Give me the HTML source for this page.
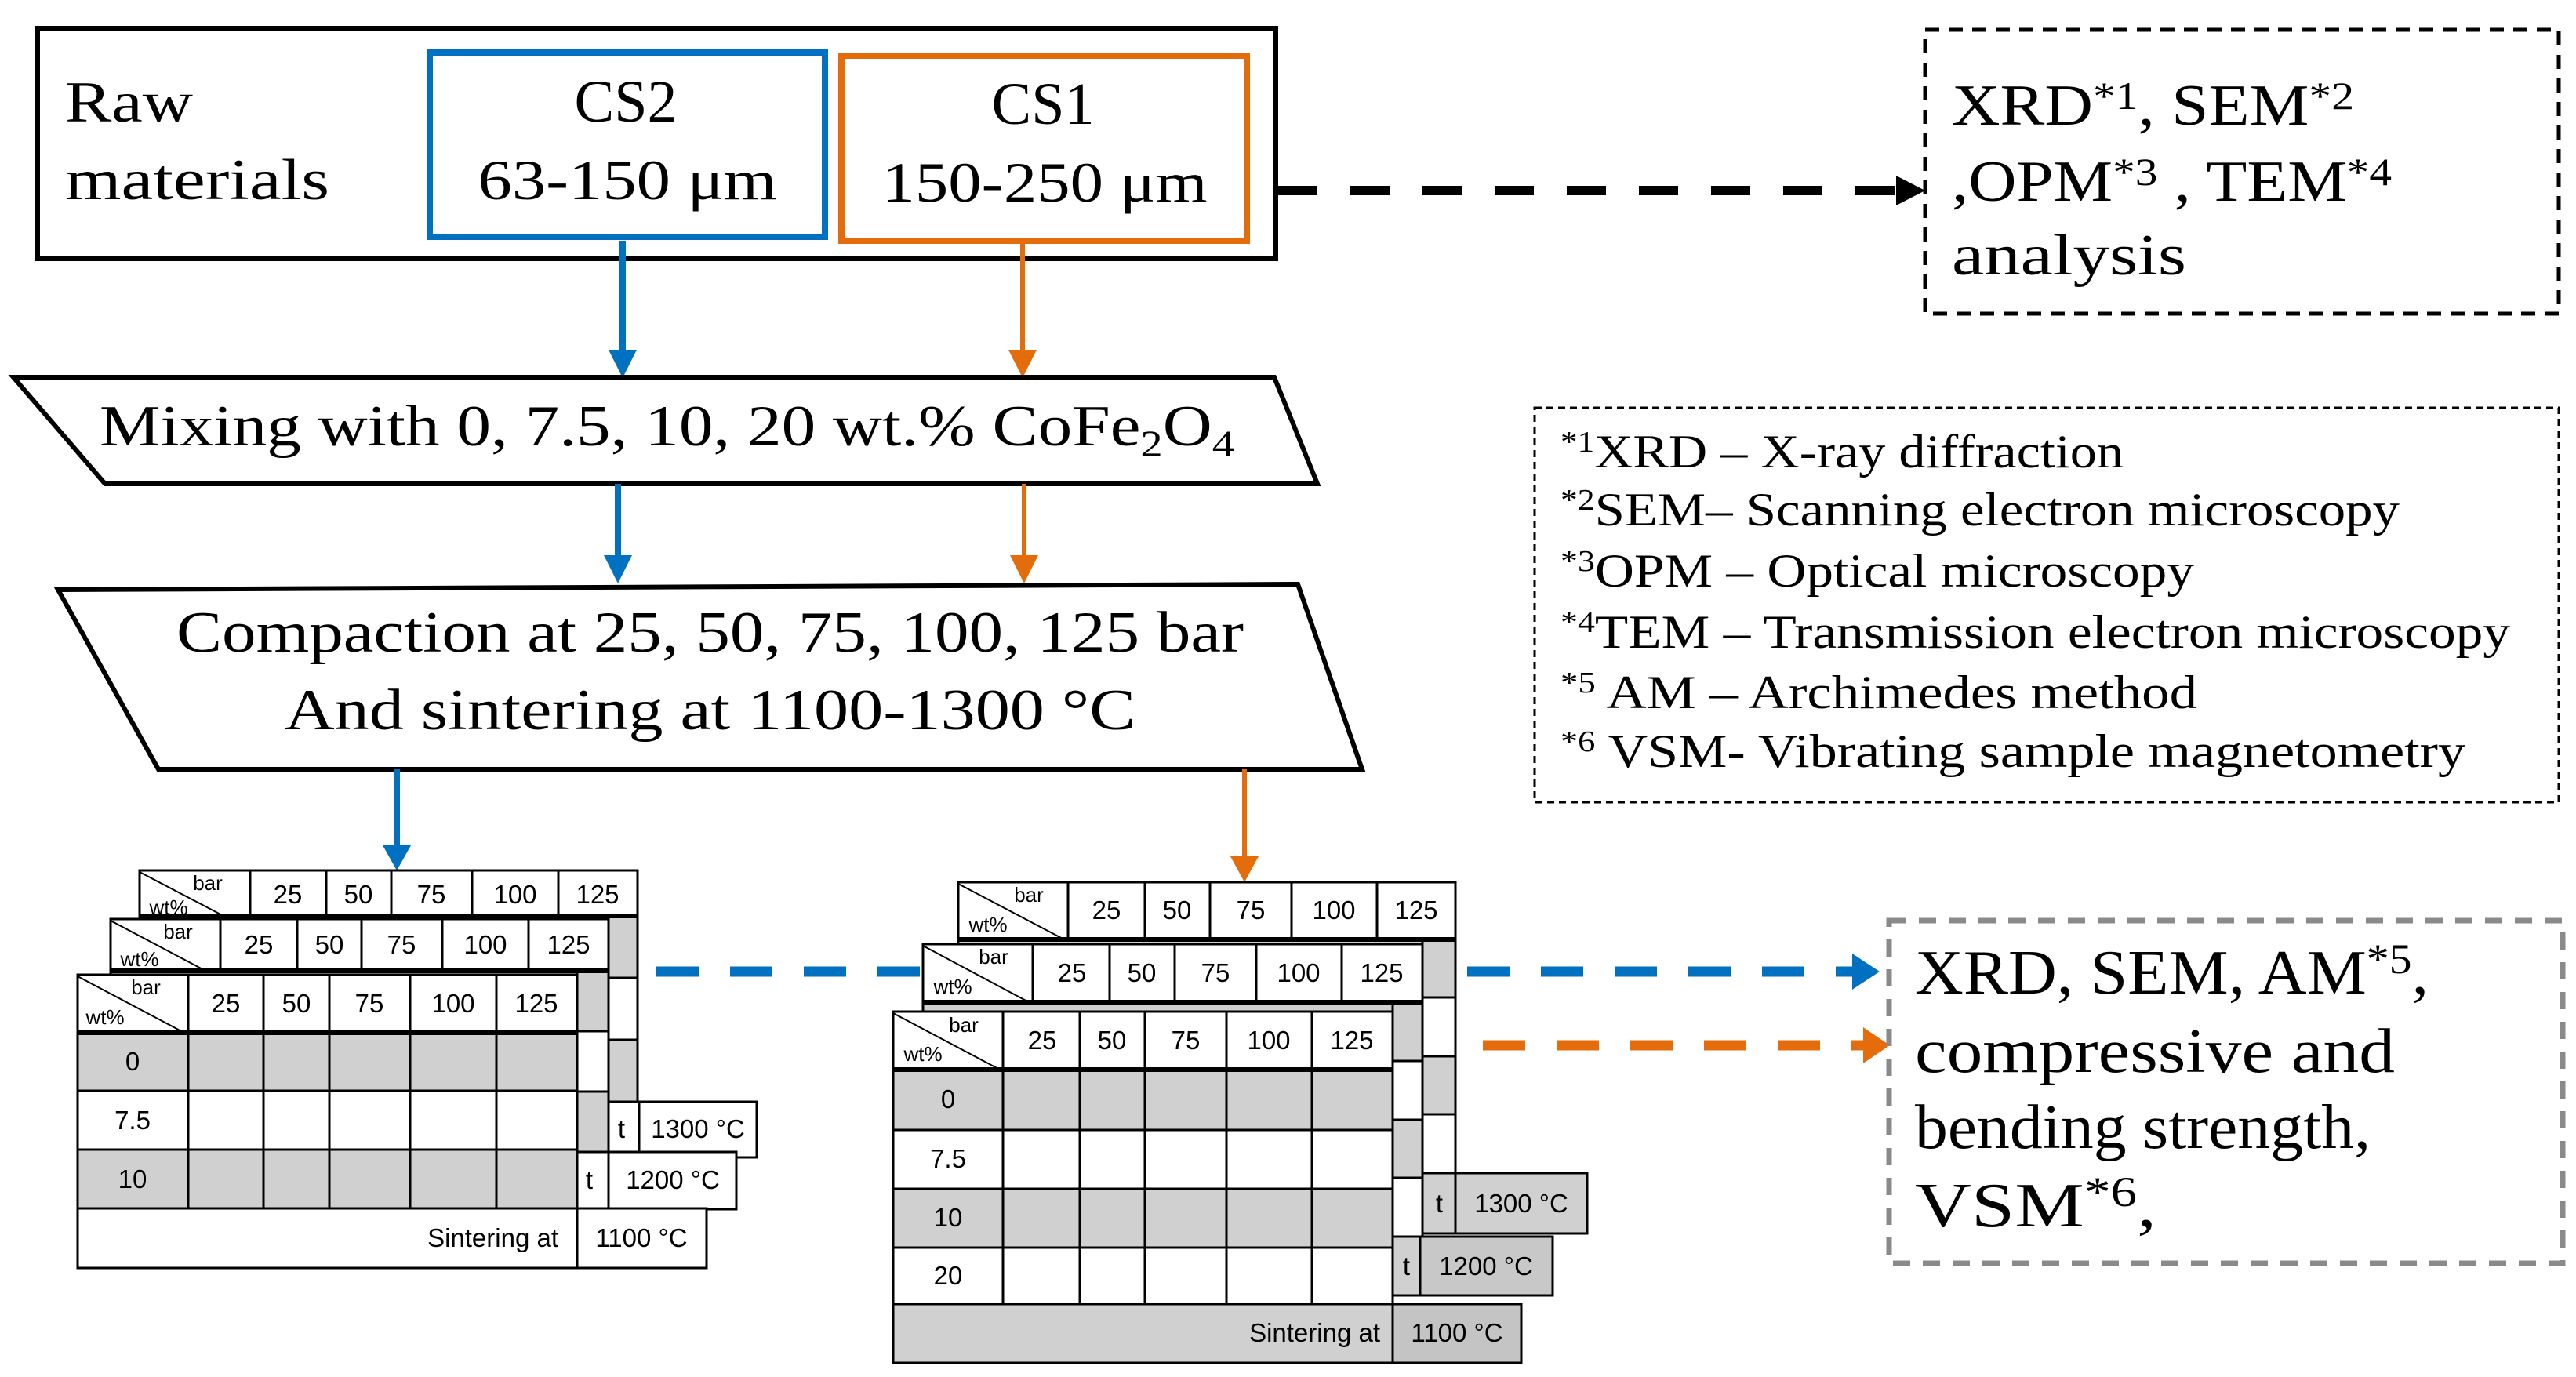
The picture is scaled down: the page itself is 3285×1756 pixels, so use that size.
<!DOCTYPE html>
<html><head><meta charset="utf-8"><style>
html,body{margin:0;padding:0;background:#fff;}
svg{display:block;}
.s{font-family:"Liberation Serif",serif;fill:#000;}
.t{font-family:"Liberation Sans",sans-serif;fill:#000;font-size:33px;}
.sm{font-size:26px;}
</style></head><body>
<svg width="3285" height="1756" viewBox="0 0 3285 1756" xmlns="http://www.w3.org/2000/svg">

<!-- Top box -->
<rect x="48" y="36" width="1579" height="294" fill="#fff" stroke="#000" stroke-width="6"/>
<text class="s" x="83" y="155" font-size="74" textLength="163" lengthAdjust="spacingAndGlyphs">Raw</text>
<text class="s" x="83" y="254" font-size="74" textLength="337" lengthAdjust="spacingAndGlyphs">materials</text>
<rect x="548" y="67" width="504" height="235" fill="#fff" stroke="#0070C0" stroke-width="8"/>
<text class="s" x="798" y="155" font-size="76" text-anchor="middle">CS2</text>
<text class="s" x="800" y="254" font-size="72" text-anchor="middle" textLength="381" lengthAdjust="spacingAndGlyphs">63-150 μm</text>
<rect x="1073" y="71" width="517" height="236" fill="#fff" stroke="#E46C0A" stroke-width="8"/>
<text class="s" x="1330" y="158" font-size="76" text-anchor="middle">CS1</text>
<text class="s" x="1332" y="257" font-size="72" text-anchor="middle" textLength="415" lengthAdjust="spacingAndGlyphs">150-250 μm</text>

<!-- black dashed arrow -->
<line x1="1630" y1="243" x2="2420" y2="243" stroke="#000" stroke-width="12" stroke-dasharray="50,42"/>
<polygon points="2418,224 2455,243 2418,262" fill="#000"/>
<rect x="2455" y="38" width="808" height="362" fill="none" stroke="#000" stroke-width="5" stroke-dasharray="18,12"/>
<text class="s" x="2489" y="159" font-size="74" textLength="513" lengthAdjust="spacingAndGlyphs">XRD<tspan font-size="50" dy="-20">*1</tspan><tspan dy="20">, SEM</tspan><tspan font-size="50" dy="-20">*2</tspan></text>
<text class="s" x="2489" y="256" font-size="74" textLength="561" lengthAdjust="spacingAndGlyphs">,OPM<tspan font-size="50" dy="-20">*3</tspan><tspan dy="20"> , TEM</tspan><tspan font-size="50" dy="-20">*4</tspan></text>
<text class="s" x="2489" y="350" font-size="74" textLength="299" lengthAdjust="spacingAndGlyphs">analysis</text>

<!-- footnote box -->
<rect x="1957" y="520" width="1306" height="503" fill="none" stroke="#000" stroke-width="3" stroke-dasharray="9,6"/>
<g class="s" font-size="60">
<text x="1990" y="596" textLength="718" lengthAdjust="spacingAndGlyphs"><tspan font-size="38" dy="-20">*1</tspan><tspan dy="20">XRD – X-ray diffraction</tspan></text>
<text x="1990" y="670" textLength="1070" lengthAdjust="spacingAndGlyphs"><tspan font-size="38" dy="-20">*2</tspan><tspan dy="20">SEM– Scanning electron microscopy</tspan></text>
<text x="1990" y="748" textLength="808" lengthAdjust="spacingAndGlyphs"><tspan font-size="38" dy="-20">*3</tspan><tspan dy="20">OPM – Optical  microscopy</tspan></text>
<text x="1990" y="826" textLength="1211" lengthAdjust="spacingAndGlyphs"><tspan font-size="38" dy="-20">*4</tspan><tspan dy="20">TEM – Transmission electron microscopy</tspan></text>
<text x="1990" y="903" textLength="812" lengthAdjust="spacingAndGlyphs"><tspan font-size="38" dy="-20">*5</tspan><tspan dy="20"> AM – Archimedes method</tspan></text>
<text x="1990" y="978" textLength="1154" lengthAdjust="spacingAndGlyphs"><tspan font-size="38" dy="-20">*6</tspan><tspan dy="20"> VSM- Vibrating sample magnetometry</tspan></text>
</g>

<!-- arrows down -->
<line x1="794" y1="307" x2="794" y2="450" stroke="#0070C0" stroke-width="8"/>
<polygon points="776,446 812,446 794,482" fill="#0070C0"/>
<line x1="1304" y1="307" x2="1304" y2="450" stroke="#E46C0A" stroke-width="6"/>
<polygon points="1286,446 1322,446 1304,482" fill="#E46C0A"/>

<!-- Mixing -->
<polygon points="17,481 1625,481 1680,617 134,617" fill="#fff" stroke="#000" stroke-width="6"/>
<text class="s" x="127" y="568" font-size="74" textLength="1447" lengthAdjust="spacingAndGlyphs">Mixing with 0, 7.5, 10, 20 wt.% CoFe<tspan font-size="48" dy="14">2</tspan><tspan dy="-14">O</tspan><tspan font-size="48" dy="14">4</tspan></text>

<line x1="788" y1="617" x2="788" y2="712" stroke="#0070C0" stroke-width="8"/>
<polygon points="770,708 806,708 788,744" fill="#0070C0"/>
<line x1="1306" y1="617" x2="1306" y2="712" stroke="#E46C0A" stroke-width="6"/>
<polygon points="1288,708 1324,708 1306,744" fill="#E46C0A"/>

<!-- Compaction -->
<polygon points="74,752 1655,745 1737,981 202,981" fill="#fff" stroke="#000" stroke-width="6"/>
<text class="s" x="225" y="831" font-size="74" textLength="1361" lengthAdjust="spacingAndGlyphs">Compaction at 25, 50, 75, 100, 125 bar</text>
<text class="s" x="363" y="930" font-size="74" textLength="1085" lengthAdjust="spacingAndGlyphs">And sintering at 1100-1300 °C</text>

<line x1="506" y1="981" x2="506" y2="1082" stroke="#0070C0" stroke-width="8"/>
<polygon points="488,1078 524,1078 506,1110" fill="#0070C0"/>
<line x1="1587" y1="981" x2="1587" y2="1096" stroke="#E46C0A" stroke-width="6"/>
<polygon points="1569,1092 1605,1092 1587,1125" fill="#E46C0A"/>

<!-- horizontal dashed arrows -->
<line x1="837" y1="1239" x2="2370" y2="1239" stroke="#0070C0" stroke-width="13" stroke-dasharray="54,40"/>
<polygon points="2362,1216 2397,1239 2362,1262" fill="#0070C0"/>
<line x1="1891" y1="1333" x2="2385" y2="1333" stroke="#E46C0A" stroke-width="13" stroke-dasharray="54,40"/>
<polygon points="2376,1310 2410,1333 2376,1356" fill="#E46C0A"/>

<!-- gray dashed result box -->
<rect x="2409" y="1174" width="859" height="437" fill="#fff" stroke="#8a8a8a" stroke-width="7" stroke-dasharray="22,16"/>
<g class="s" font-size="80">
<text x="2442" y="1267" textLength="655" lengthAdjust="spacingAndGlyphs">XRD, SEM, AM<tspan font-size="54" dy="-26">*5</tspan><tspan dy="26">,</tspan></text>
<text x="2442" y="1367" textLength="612" lengthAdjust="spacingAndGlyphs">compressive and</text>
<text x="2442" y="1464" textLength="581" lengthAdjust="spacingAndGlyphs">bending strength,</text>
<text x="2442" y="1564" textLength="308" lengthAdjust="spacingAndGlyphs">VSM<tspan font-size="54" dy="-26">*6</tspan><tspan dy="26">,</tspan></text>
</g>

<g stroke="#000" stroke-width="3">
<!-- ===== LEFT BACK ===== -->
<rect x="178" y="1168" width="635" height="79" fill="#d0d0d0"/>
<rect x="178" y="1247" width="635" height="79" fill="#fff"/>
<rect x="178" y="1326" width="635" height="79" fill="#d0d0d0"/>
<rect x="178" y="1405" width="637" height="71" fill="#fff"/>
<rect x="815" y="1405" width="150" height="71" fill="#fff"/>
<rect x="178" y="1110" width="635" height="58" fill="#fff"/>
<line x1="178" y1="1168" x2="813" y2="1168" stroke-width="6"/>
<path d="M319 1110V1168M416 1110V1168M499 1110V1168M602 1110V1168M712 1110V1168M776 1168V1405" fill="none"/>
<line x1="178" y1="1112" x2="285" y2="1168" stroke-width="2"/>
<!-- ===== LEFT MID ===== -->
<rect x="141" y="1238" width="635" height="77" fill="#d0d0d0"/>
<rect x="141" y="1315" width="635" height="77" fill="#fff"/>
<rect x="141" y="1392" width="635" height="77" fill="#d0d0d0"/>
<rect x="141" y="1469" width="635" height="73" fill="#fff"/>
<rect x="776" y="1469" width="163" height="73" fill="#fff"/>
<rect x="141" y="1172" width="635" height="66" fill="#fff"/>
<line x1="141" y1="1238" x2="776" y2="1238" stroke-width="6"/>
<path d="M281 1172V1238M379 1172V1238M461 1172V1238M564 1172V1238M674 1172V1238M736 1238V1469" fill="none"/>
<line x1="141" y1="1174" x2="262" y2="1238" stroke-width="2"/>
<!-- ===== LEFT FRONT ===== -->
<rect x="99" y="1317" width="637" height="74" fill="#d0d0d0"/>
<rect x="99" y="1391" width="637" height="75" fill="#fff"/>
<rect x="99" y="1466" width="637" height="75" fill="#d0d0d0"/>
<rect x="99" y="1541" width="637" height="76" fill="#fff"/>
<rect x="736" y="1541" width="165" height="76" fill="#fff"/>
<rect x="99" y="1243" width="637" height="74" fill="#fff"/>
<line x1="99" y1="1317" x2="736" y2="1317" stroke-width="6"/>
<path d="M240 1243V1541M336 1243V1541M420 1243V1541M523 1243V1541M633 1243V1541" fill="none"/>
<line x1="99" y1="1245" x2="235" y2="1317" stroke-width="2"/>

<!-- ===== RIGHT BACK ===== -->
<rect x="1222" y="1198" width="634" height="74" fill="#d0d0d0"/>
<rect x="1222" y="1272" width="634" height="75" fill="#fff"/>
<rect x="1222" y="1347" width="634" height="74" fill="#d0d0d0"/>
<rect x="1222" y="1421" width="634" height="75" fill="#fff"/>
<rect x="1222" y="1496" width="634" height="77" fill="#d0d0d0"/>
<rect x="1856" y="1496" width="168" height="77" fill="#d0d0d0"/>
<rect x="1222" y="1125" width="634" height="73" fill="#fff"/>
<line x1="1222" y1="1198" x2="1856" y2="1198" stroke-width="6"/>
<path d="M1362 1125V1198M1460 1125V1198M1543 1125V1198M1647 1125V1198M1756 1125V1198M1814 1198V1496" fill="none"/>
<line x1="1222" y1="1127" x2="1357" y2="1198" stroke-width="2"/>
<!-- ===== RIGHT MID ===== -->
<rect x="1177" y="1278" width="637" height="75" fill="#d0d0d0"/>
<rect x="1177" y="1353" width="637" height="75" fill="#fff"/>
<rect x="1177" y="1428" width="637" height="74" fill="#d0d0d0"/>
<rect x="1177" y="1502" width="637" height="75" fill="#fff"/>
<rect x="1177" y="1577" width="637" height="75" fill="#d0d0d0"/>
<rect x="1811" y="1577" width="169" height="75" fill="#c8c8c8"/>
<rect x="1177" y="1204" width="637" height="74" fill="#fff"/>
<line x1="1177" y1="1278" x2="1814" y2="1278" stroke-width="6"/>
<path d="M1317 1204V1278M1415 1204V1278M1498 1204V1278M1602 1204V1278M1711 1204V1278M1776 1278V1577" fill="none"/>
<line x1="1177" y1="1206" x2="1312" y2="1278" stroke-width="2"/>
<!-- ===== RIGHT FRONT ===== -->
<rect x="1139" y="1364" width="637" height="77" fill="#d0d0d0"/>
<rect x="1139" y="1441" width="637" height="75" fill="#fff"/>
<rect x="1139" y="1516" width="637" height="75" fill="#d0d0d0"/>
<rect x="1139" y="1591" width="637" height="72" fill="#fff"/>
<rect x="1139" y="1663" width="637" height="75" fill="#d0d0d0"/>
<rect x="1776" y="1663" width="164" height="75" fill="#c4c4c4"/>
<rect x="1139" y="1290" width="637" height="74" fill="#fff"/>
<line x1="1139" y1="1364" x2="1776" y2="1364" stroke-width="6"/>
<path d="M1279 1290V1663M1377 1290V1663M1460 1290V1663M1564 1290V1663M1673 1290V1663" fill="none"/>
<line x1="1139" y1="1292" x2="1275" y2="1364" stroke-width="2"/>
</g>

<!-- table texts -->
<g class="t" text-anchor="middle">
<!-- left back -->
<text x="367" y="1152">25</text><text x="457" y="1152">50</text><text x="550" y="1152">75</text><text x="657" y="1152">100</text><text x="762" y="1152">125</text>
<text class="sm" x="265" y="1135">bar</text><text class="sm" x="215" y="1166">wt%</text>
<text x="890" y="1451">1300 °C</text><text x="797" y="1451" text-anchor="end">t</text>
<!-- left mid -->
<text x="330" y="1216">25</text><text x="420" y="1216">50</text><text x="512" y="1216">75</text><text x="619" y="1216">100</text><text x="725" y="1216">125</text>
<text class="sm" x="227" y="1197">bar</text><text class="sm" x="178" y="1232">wt%</text>
<text x="858" y="1516">1200 °C</text><text x="756" y="1516" text-anchor="end">t</text>
<!-- left front -->
<text x="288" y="1291">25</text><text x="378" y="1291">50</text><text x="471" y="1291">75</text><text x="578" y="1291">100</text><text x="684" y="1291">125</text>
<text class="sm" x="186" y="1268">bar</text><text class="sm" x="134" y="1306">wt%</text>
<text x="169" y="1365">0</text><text x="169" y="1440">7.5</text><text x="169" y="1515">10</text>
<text x="712" y="1590" text-anchor="end">Sintering at</text><text x="818" y="1590">1100 °C</text>

<!-- right back -->
<text x="1411" y="1172">25</text><text x="1501" y="1172">50</text><text x="1595" y="1172">75</text><text x="1701" y="1172">100</text><text x="1806" y="1172">125</text>
<text class="sm" x="1312" y="1150">bar</text><text class="sm" x="1260" y="1188">wt%</text>
<text x="1940" y="1546">1300 °C</text><text x="1840" y="1546" text-anchor="end">t</text>
<!-- right mid -->
<text x="1367" y="1252">25</text><text x="1456" y="1252">50</text><text x="1550" y="1252">75</text><text x="1656" y="1252">100</text><text x="1762" y="1252">125</text>
<text class="sm" x="1267" y="1229">bar</text><text class="sm" x="1215" y="1267">wt%</text>
<text x="1895" y="1626">1200 °C</text><text x="1798" y="1626" text-anchor="end">t</text>
<!-- right front -->
<text x="1329" y="1338">25</text><text x="1418" y="1338">50</text><text x="1512" y="1338">75</text><text x="1618" y="1338">100</text><text x="1724" y="1338">125</text>
<text class="sm" x="1229" y="1316">bar</text><text class="sm" x="1177" y="1353">wt%</text>
<text x="1209" y="1413">0</text><text x="1209" y="1489">7.5</text><text x="1209" y="1564">10</text><text x="1209" y="1638">20</text>
<text x="1760" y="1711" text-anchor="end">Sintering at</text><text x="1858" y="1711">1100 °C</text>
</g>
</svg>
</body></html>
